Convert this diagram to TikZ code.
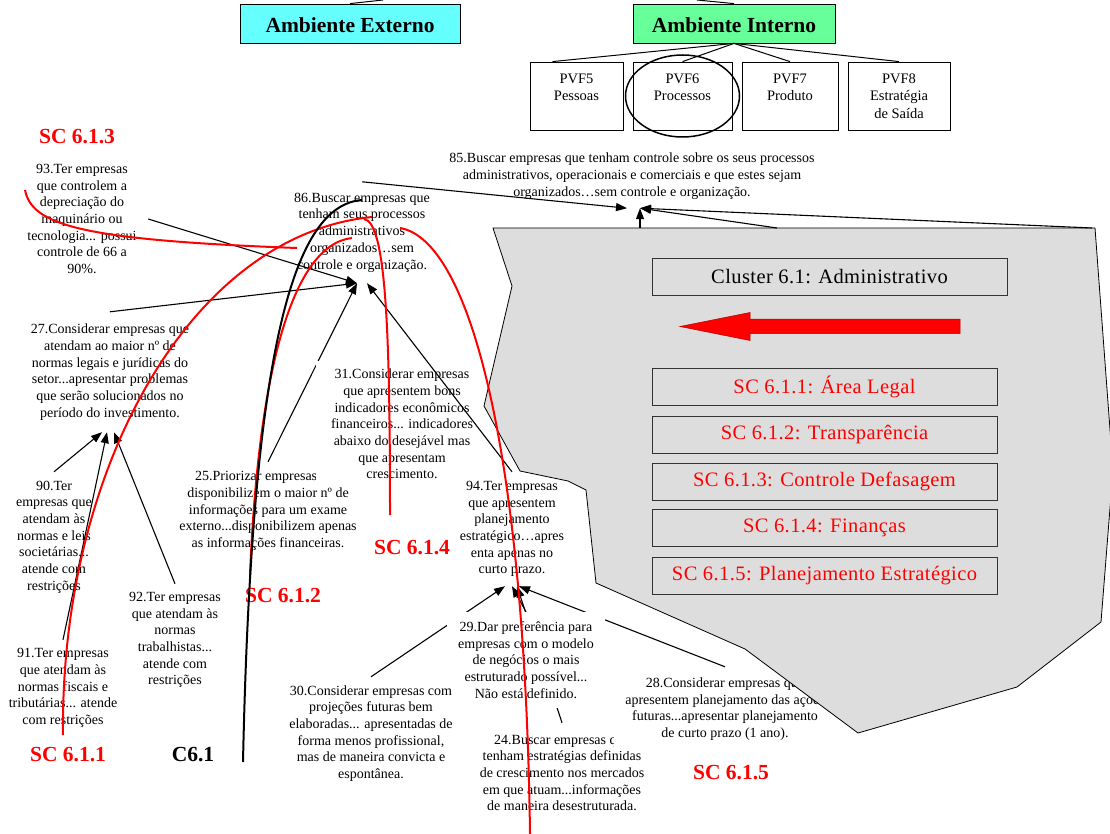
\documentclass[tikz,border=0pt]{standalone}
\usepackage{fontspec}
\setmainfont{Liberation Serif}
\newfontfamily\spacedfont[LetterSpace=2]{Liberation Serif}
\usetikzlibrary{arrows.meta}
\pgfdeclarelayer{front}
\pgfsetlayers{main,front}
\definecolor{extcyan}{RGB}{102,255,255}
\definecolor{intgreen}{RGB}{102,255,153}
\definecolor{panelgray}{RGB}{221,221,221}
\newcommand{\cfont}{\fontsize{14}{16.7}\selectfont}
\newcommand{\tagfont}{\fontsize{21.5}{24}\selectfont\bfseries}
\newcommand{\boxfont}{\spacedfont\fontsize{20.5}{23}\selectfont}

\begin{document}
\begin{tikzpicture}[x=1pt,y=-1pt,
    concept/.style={align=center,font=\cfont,inner sep=0pt},
    link/.style={line width=1.1pt,-{Triangle[length=11pt,width=8pt]}},
    plain/.style={line width=1pt},
    pvf/.style={draw,fill=white,line width=0.8pt,align=center,font=\fontsize{14.5}{17.5}\selectfont,minimum height=68pt},
    sc/.style={draw=black!80,fill=panelgray,line width=0.8pt,minimum width=345pt,minimum height=37pt,font=\boxfont,text=red},
    tag/.style={font=\tagfont,text=red},
    redcurve/.style={red,line width=2pt}]
    \useasboundingbox (0,0) rectangle (1110,834);
    \fill[white] (0,0) rectangle (1110,834);

    % top of the tree
    \node[draw,fill=extcyan,line width=0.8pt,minimum width=220pt,minimum height=39pt,text height=19pt,font=\tagfont] (ext) at (350,23.5) {Ambiente Externo};
    \node[draw,fill=intgreen,line width=0.8pt,minimum width=202pt,minimum height=39pt,text height=19pt,font=\tagfont] (int) at (734,23.5) {Ambiente Interno};
    \coordinate (upext) at (383,0);
    \coordinate (upint) at (697,0);
    \draw[plain] (ext.north) -- (upext);
    \draw[plain] (int.north) -- (upint);

    \node[pvf,minimum width=93pt] (pvf5) at (576.5,96) {PVF5\\Pessoas\\\mbox{}};
    \node[pvf,minimum width=99pt] (pvf6) at (682.5,96) {PVF6\\Processos\\\mbox{}};
    \node[pvf,minimum width=96pt] (pvf7) at (790,96) {PVF7\\Produto\\\mbox{}};
    \node[pvf,minimum width=102pt] (pvf8) at (899,96) {PVF8\\Estratégia\\de Saída};
    \draw[plain] (int.south) -- ([xshift=-24]pvf5.north);
    \draw[plain] (int.south) -- (pvf6.north);
    \draw[plain] (int.south) -- (pvf7.north);
    \draw[plain] (int.south) -- (pvf8.north);
    \draw[line width=1.5pt] (pvf6.center) ellipse [x radius=57, y radius=41];

    % concepts
    \node[concept,minimum width=380pt,minimum height=64pt] (c85) at (632,176) {85.Buscar empresas que tenham controle sobre os seus processos\\administrativos, operacionais e comerciais e que estes sejam\\organizados…sem controle e organização.};
    \node[concept,minimum width=150pt,minimum height=101pt] (c86) at (362,232.5) {86.Buscar empresas que\\tenham seus processos\\administrativos\\organizados…sem\\controle e organização.};
    \node[concept,minimum width=132pt,minimum height=120pt] (c93) at (82,219) {93.Ter empresas\\que controlem a\\depreciação do\\maquinário ou\\tecnologia... possui\\controle de 66 a\\90\%.};
    \node[concept,minimum width=200pt,minimum height=120pt] (c27) at (110,372) {27.Considerar empresas que\\atendam ao maior nº de\\normas legais e jurídicas do\\setor...apresentar problemas\\que serão solucionados no\\período do investimento.};
    \node[concept,minimum width=100pt,minimum height=130pt] (c90) at (54,537) {90.Ter\\empresas que\\atendam às\\normas e leis\\societárias...\\atende com\\restrições};
    \node[concept,minimum width=130pt,minimum height=96pt] (c91) at (63,688) {91.Ter empresas\\que atendam às\\normas fiscais e\\tributárias... atende\\com restrições};
    \node[concept,minimum width=120pt,minimum height=112pt] (c92) at (175,640) {92.Ter empresas\\que atendam às\\normas\\trabalhistas...\\atende com\\restrições};
    \node[concept,minimum width=180pt,minimum height=98pt] (c25) at (268,511) {25.Priorizar empresas que\\disponibilizem o maior nº de\\informações para um exame\\externo...disponibilizem apenas\\as informações financeiras.};
    \begin{pgfonlayer}{front}
    \node[concept,minimum width=200pt,minimum height=113pt] (c30) at (371,733.5) {30.Considerar empresas com\\projeções futuras bem\\elaboradas... apresentadas de\\forma menos profissional,\\mas de maneira convicta e\\espontânea.};
    \end{pgfonlayer}
    \node[concept,minimum width=170pt,minimum height=100pt] (c24) at (562,773) {24.Buscar empresas que\\tenham estratégias definidas\\de crescimento nos mercados\\em que atuam...informações\\de maneira desestruturada.};
    \node[concept,fill=white,minimum width=222pt,minimum height=84pt] (c28) at (725,709) {28.Considerar empresas que\\apresentem planejamento das ações\\futuras...apresentar planejamento\\de curto prazo (1 ano).};

    % links running under boxes
    \draw[link] (c25.north) -- ([xshift=-5]c86.south);
    \node[concept,fill=white,minimum width=172pt,minimum height=126pt] (c31) at (402,424) {31.Considerar empresas\\que apresentem bons\\indicadores econômicos\\financeiros... indicadores\\abaixo do desejável mas\\que apresentam\\crescimento.};
    \node[concept,minimum width=120pt,minimum height=114pt] (c94) at (512,529) {94.Ter empresas\\que apresentem\\planejamento\\estratégico…apres\\enta apenas no\\curto prazo.};
    \draw[link] (c30.north) -- ([xshift=-7]c94.south);
    \draw[link] (c24.north) -- ([xshift=5]c94.south);
    \draw[link] (c28.north) -- ([xshift=7]c94.south);
    \node[concept,fill=white,minimum width=158pt,minimum height=96pt] (c29) at (526,660) {29.Dar preferência para\\empresas com o modelo\\de negócios o mais\\estruturado possível...\\Não está definido.};

    \draw[link] (c29.north) -- (c94.south);
    \draw[link] (c94.north) -- ([xshift=5]c86.south);
    \draw[link] (c93.east) -- ([xshift=-5]c86.south);
    \draw[link] (c27.north) -- ([xshift=-5]c86.south);
    \draw[link] (c90.north) -- ([xshift=-8]c27.south);
    \draw[link] (c91.north) -- ([xshift=-3]c27.south);
    \draw[link] (c92.north) -- ([xshift=4]c27.south);
    \draw[link] (c86.north) -- ([xshift=-5]c85.south);

    % cluster panel
    \draw[fill=panelgray,line width=0.8pt] (493,228) -- (1095,228) -- (1113,470) -- (1101,622) -- (1017,687) -- (858,733) -- (745,649) -- (596,583) -- (586,490) -- (568,481) -- (520,471) -- (484,406) -- (512,286) -- cycle;
    \coordinate (p1) at (640,228);
    \coordinate (p2) at (777,228);
    \coordinate (p3) at (1092,228);
    \draw[link] (p1) -- ([xshift=8]c85.south);
    \draw[link] (p2) -- ([xshift=8]c85.south);
    \draw[link] (p3) -- ([xshift=8]c85.south);

    \node[draw=black!80,fill=panelgray,line width=0.8pt,minimum width=355pt,minimum height=37pt,font=\boxfont] (clu) at (829.5,276.5) {Cluster 6.1: Administrativo};
    \draw[red!70!black,fill=red,line width=0.5pt] (680,326.5) -- (750,312.5) -- (750,319) -- (960,319) -- (960,333.5) -- (750,333.5) -- (750,340.5) -- cycle;
    \node[sc] (sc1) at (824.5,387) {SC 6.1.1: Área Legal};
    \node[sc] (sc2) at (824.5,434.5) {SC 6.1.2: Transparência};
    \node[sc] (sc3) at (824.5,481.5) {SC 6.1.3: Controle Defasagem};
    \node[sc] (sc4) at (824.5,528) {SC 6.1.4: Finanças};
    \node[sc] (sc5) at (824.5,575.5) {SC 6.1.5: Planejamento Estratégico};

    % sub-cluster tags and their strokes
    \node[tag] (l613) at (77,137) {SC 6.1.3};
    \node[tag] (l611) at (68,755) {SC 6.1.1};
    \node[tag,text=black] (l61) at (193,755) {C6.1};
    \node[tag] (l612) at (283,596) {SC 6.1.2};
    \node[tag] (l614) at (412,548) {SC 6.1.4};
    \node[tag] (l615) at (731,773) {SC 6.1.5};

    \coordinate (s613) at (25,190);
    \coordinate (e613) at (297,248);
    \coordinate (s611) at (63,735);
    \coordinate (e611) at (372,217);
    \coordinate (s614) at (390,515);
    \coordinate (e614) at (364,219);
    \coordinate (s612) at (250,575);
    \coordinate (e612) at (352,238);
    \coordinate (s61) at (243,762);
    \coordinate (e61) at (362,200);
    \coordinate (s615) at (530,834);
    \coordinate (e615) at (400,228);

    \draw[redcurve] (s613) .. controls (32,225) and (80,240) .. (e613);
    \draw[redcurve] (s611) .. controls (60,470) and (190,235) .. (e611);
    \draw[redcurve] (s614) .. controls (390,330) and (386,222) .. (e614);
    \draw[redcurve] (s612) .. controls (258,380) and (290,245) .. (e612);
    \draw[line width=2pt] (s61) .. controls (252,340) and (295,205) .. (e61);
    \draw[redcurve] (s615) .. controls (525,450) and (470,240) .. (e615);
\end{tikzpicture}
\end{document}
